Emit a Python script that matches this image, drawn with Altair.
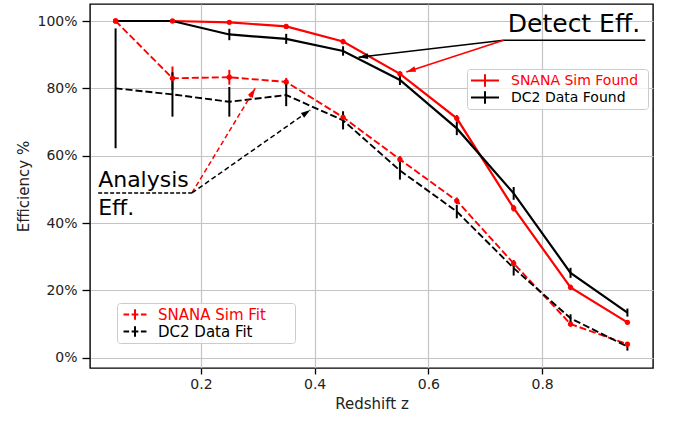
import math
import altair as alt
import pandas as pd

# ---------------- data ----------------
z = [0.05, 0.15, 0.25, 0.35, 0.45, 0.55, 0.65, 0.75, 0.85, 0.95]

sim_found = [1.000, 1.000, 0.996, 0.984, 0.939, 0.843, 0.711, 0.444, 0.209, 0.105]
sim_found_err = [0.0, 0.0, 0.004, 0.006, 0.008, 0.008, 0.010, 0.010, 0.008, 0.006]

dc2_found = [1.000, 1.000, 0.960, 0.947, 0.911, 0.825, 0.681, 0.488, 0.252, 0.134]
dc2_found_err = [0.0, 0.0, 0.017, 0.015, 0.014, 0.015, 0.020, 0.019, 0.015, 0.012]

sim_fit = [1.000, 0.830, 0.833, 0.819, 0.714, 0.589, 0.466, 0.280, 0.100, 0.040]
sim_fit_err = [0.0, 0.035, 0.022, 0.012, 0.010, 0.010, 0.010, 0.010, 0.008, 0.006]

dc2_fit = [0.800, 0.782, 0.760, 0.780, 0.705, 0.556, 0.434, 0.266, 0.117, 0.033]
dc2_fit_err = [0.178, 0.066, 0.044, 0.033, 0.027, 0.027, 0.020, 0.022, 0.012, 0.012]

found_labels = ["SNANA Sim Found", "DC2 Data Found"]
fit_labels = ["SNANA Sim Fit", "DC2 Data Fit"]
series_colors = ["#ff0000", "#000000"]

x_ticks = [0.2, 0.4, 0.6, 0.8]
y_ticks = [0.0, 0.2, 0.4, 0.6, 0.8, 1.0]

# annotation anchors (data coordinates)
detect_text = ["Detect Eff."]
detect_text_x = [0.7397]
detect_text_y = [0.9664]
analysis_text = ["Analysis", "Eff."]
analysis_text_x = [0.0193, 0.0193]
analysis_text_y = [0.5079, 0.4238]

detect_hub = (0.7323, 0.9427)
detect_line_end_x = 0.9815
detect_heads_x = [0.4772, 0.5611]
detect_heads_y = [0.8922, 0.8485]
detect_heads_col = ["#000000", "#ff0000"]

analysis_hub = (0.1842, 0.4892)
analysis_line_start_x = 0.0193
analysis_heads_x = [0.2955, 0.3923]
analysis_heads_y = [0.8001, 0.7357]
analysis_heads_col = ["#ff0000", "#000000"]

# ---------------- layout ----------------
W, H = 563, 364
X_DOM = [0.005, 0.995]
Y_DOM = [-0.0306, 1.0505]
FONT = "DejaVu Sans"
ARROW_PATH = "M0,0L-0.6,2L0.6,2Z"


def to_px(x, y):
    return ((x - X_DOM[0]) / (X_DOM[1] - X_DOM[0]) * W,
            (Y_DOM[1] - y) / (Y_DOM[1] - Y_DOM[0]) * H)


def head_angle(x0, y0, x1, y1):
    px0, py0 = to_px(x0, y0)
    px1, py1 = to_px(x1, y1)
    return math.degrees(math.atan2(px1 - px0, -(py1 - py0))) % 360


def rows(label, vals, errs):
    return [dict(z=a, eff=v, lo=v - e, hi=v + e, series=label)
            for a, v, e in zip(z, vals, errs)]


found_df = pd.DataFrame(rows(found_labels[0], sim_found, sim_found_err)
                        + rows(found_labels[1], dc2_found, dc2_found_err))
fit_df = pd.DataFrame(rows(fit_labels[0], sim_fit, sim_fit_err)
                      + rows(fit_labels[1], dc2_fit, dc2_fit_err))

xscale = alt.Scale(domain=X_DOM, nice=False, zero=False)
yscale = alt.Scale(domain=Y_DOM, nice=False, zero=False)

axis_style = dict(
    grid=True, gridColor="#c4c4c4", gridWidth=1.2, domain=False,
    tickColor="#000000", tickWidth=1.3,
    labelFont=FONT, labelFontSize=14, labelColor="#222222",
    titleFont=FONT, titleFontSize=15, titleFontWeight="normal", titleColor="#222222",
)
x_axis = alt.Axis(values=x_ticks, format=".1f", title="Redshift z",
                  tickSize=6, labelPadding=3, titlePadding=5, **axis_style)
y_axis = alt.Axis(values=y_ticks, format=".0%", title="Efficiency %",
                  tickSize=8, labelPadding=5, titlePadding=5, **axis_style)


def XF(field):
    return alt.X(field, scale=xscale, axis=x_axis, title="Redshift z")


def YF(field):
    return alt.Y(field, scale=yscale, axis=y_axis, title="Efficiency %")


def legend(labels, path, lx, ly, offset, size, spacer):
    return alt.Legend(
        title="x", titleOrient="right", titleColor="rgba(0,0,0,0)",
        titleFontSize=10, titlePadding=spacer,
        orient="none", legendX=lx, legendY=ly,
        symbolType=path, symbolSize=784, symbolStrokeWidth=2,
        symbolFillColor="transparent",
        clipHeight=17, rowPadding=0, padding=3, labelOffset=offset,
        labelFont=FONT, labelFontSize=size,
        labelColor={"expr": f"datum.label == '{labels[0]}' ? '#ff0000' : '#000000'"},
        strokeColor="#cccccc", fillColor="rgba(255,255,255,0.8)", cornerRadius=3,
    )


def group(df, labels, dash, leg):
    color = alt.Color("series:N", scale=alt.Scale(domain=labels, range=series_colors),
                      legend=leg)
    color_nl = alt.Color("series:N", scale=alt.Scale(domain=labels, range=series_colors),
                         legend=None)
    line_kw = dict(strokeWidth=2.2)
    if dash:
        line_kw["strokeDash"] = dash
        line_kw["strokeWidth"] = 1.9
    line = alt.Chart(df).mark_line(**line_kw).encode(
        x=XF("z:Q"), y=YF("eff:Q"), color=color, detail="series:N")
    err = alt.Chart(df).mark_rule(strokeWidth=2).encode(
        x=XF("z:Q"), y=YF("lo:Q"), y2="hi:Q", color=color_nl)
    pts = alt.Chart(df).transform_filter(
        alt.datum.series == labels[0]
    ).mark_point(filled=True, size=28, opacity=1, color="#ff0000").encode(
        x=XF("z:Q"), y=YF("eff:Q"))
    return alt.layer(line, err, pts)


PATH_FOUND = "M-1,0H1M0,-0.45V0.45"
PATH_FIT = "M-0.82,0H-0.42M-0.24,0H0.24M0.42,0H0.82M0,-0.38V0.38"

found_layer = group(found_df, found_labels, None,
                    legend(found_labels, PATH_FOUND, 377, 65, 11, 14, 1))
fit_layer = group(fit_df, fit_labels, [7, 3],
                  legend(fit_labels, PATH_FIT, 27, 299, 8, 15, 20))

# ---------------- annotations ----------------
detect_lines = pd.DataFrame({
    "x0": [detect_hub[0]] * 3,
    "y0": [detect_hub[1]] * 3,
    "x1": detect_heads_x + [detect_line_end_x],
    "y1": detect_heads_y + [detect_hub[1]],
    "col": detect_heads_col + ["#000000"],
})
analysis_lines = pd.DataFrame({
    "x0": [analysis_hub[0]] * 2,
    "y0": [analysis_hub[1]] * 2,
    "x1": analysis_heads_x,
    "y1": analysis_heads_y,
    "col": analysis_heads_col,
})
analysis_under = pd.DataFrame({
    "x0": [analysis_line_start_x], "y0": [analysis_hub[1]],
    "x1": [analysis_hub[0]], "y1": [analysis_hub[1]],
})

heads = pd.DataFrame({
    "x": detect_heads_x + analysis_heads_x,
    "y": detect_heads_y + analysis_heads_y,
    "col": detect_heads_col + analysis_heads_col,
    "ang": [head_angle(detect_hub[0], detect_hub[1], hx, hy)
            for hx, hy in zip(detect_heads_x, detect_heads_y)]
           + [head_angle(analysis_hub[0], analysis_hub[1], hx, hy)
              for hx, hy in zip(analysis_heads_x, analysis_heads_y)],
})


def seg_layer(df, dash=None, width=1.5):
    kw = dict(strokeWidth=width)
    if dash:
        kw["strokeDash"] = dash
    enc = dict(x=XF("x0:Q"), y=YF("y0:Q"), x2="x1:Q", y2="y1:Q")
    if "col" in df.columns:
        enc["stroke"] = alt.Stroke("col:N", scale=None)
        return alt.Chart(df).mark_rule(**kw).encode(**enc)
    return alt.Chart(df).mark_rule(color="#000000", **kw).encode(**enc)


detect_seg = seg_layer(detect_lines, None, 1.5)
analysis_seg = seg_layer(analysis_lines, [5, 3], 1.5)
analysis_ul = seg_layer(analysis_under, [4, 2], 1.3)

head_layer = alt.Chart(heads).mark_point(
    shape=ARROW_PATH, filled=True, size=90, opacity=1, strokeWidth=0
).encode(
    x=XF("x:Q"), y=YF("y:Q"),
    fill=alt.Fill("col:N", scale=None),
    angle=alt.Angle("ang:Q", scale=None),
)

detect_txt = alt.Chart(pd.DataFrame({"t": detect_text, "x": detect_text_x, "y": detect_text_y})).mark_text(
    align="left", baseline="alphabetic", font=FONT, fontSize=25, color="#000000"
).encode(x=XF("x:Q"), y=YF("y:Q"), text="t:N")

analysis_txt = alt.Chart(pd.DataFrame({"t": analysis_text, "x": analysis_text_x, "y": analysis_text_y})).mark_text(
    align="left", baseline="alphabetic", font=FONT, fontSize=22, color="#000000"
).encode(x=XF("x:Q"), y=YF("y:Q"), text="t:N")

chart = alt.layer(
    found_layer, fit_layer,
    detect_seg, analysis_seg, analysis_ul, head_layer, detect_txt, analysis_txt,
).resolve_scale(color="independent").properties(
    width=W, height=H,
    autosize=alt.AutoSizeParams(type="none"),
    padding={"left": 90, "top": 4, "right": 20, "bottom": 56},
    background="white",
).configure_view(
    stroke="#000000", strokeWidth=1.4
)

chart.save("out.html", embed_options={"renderer": "svg", "actions": False})
